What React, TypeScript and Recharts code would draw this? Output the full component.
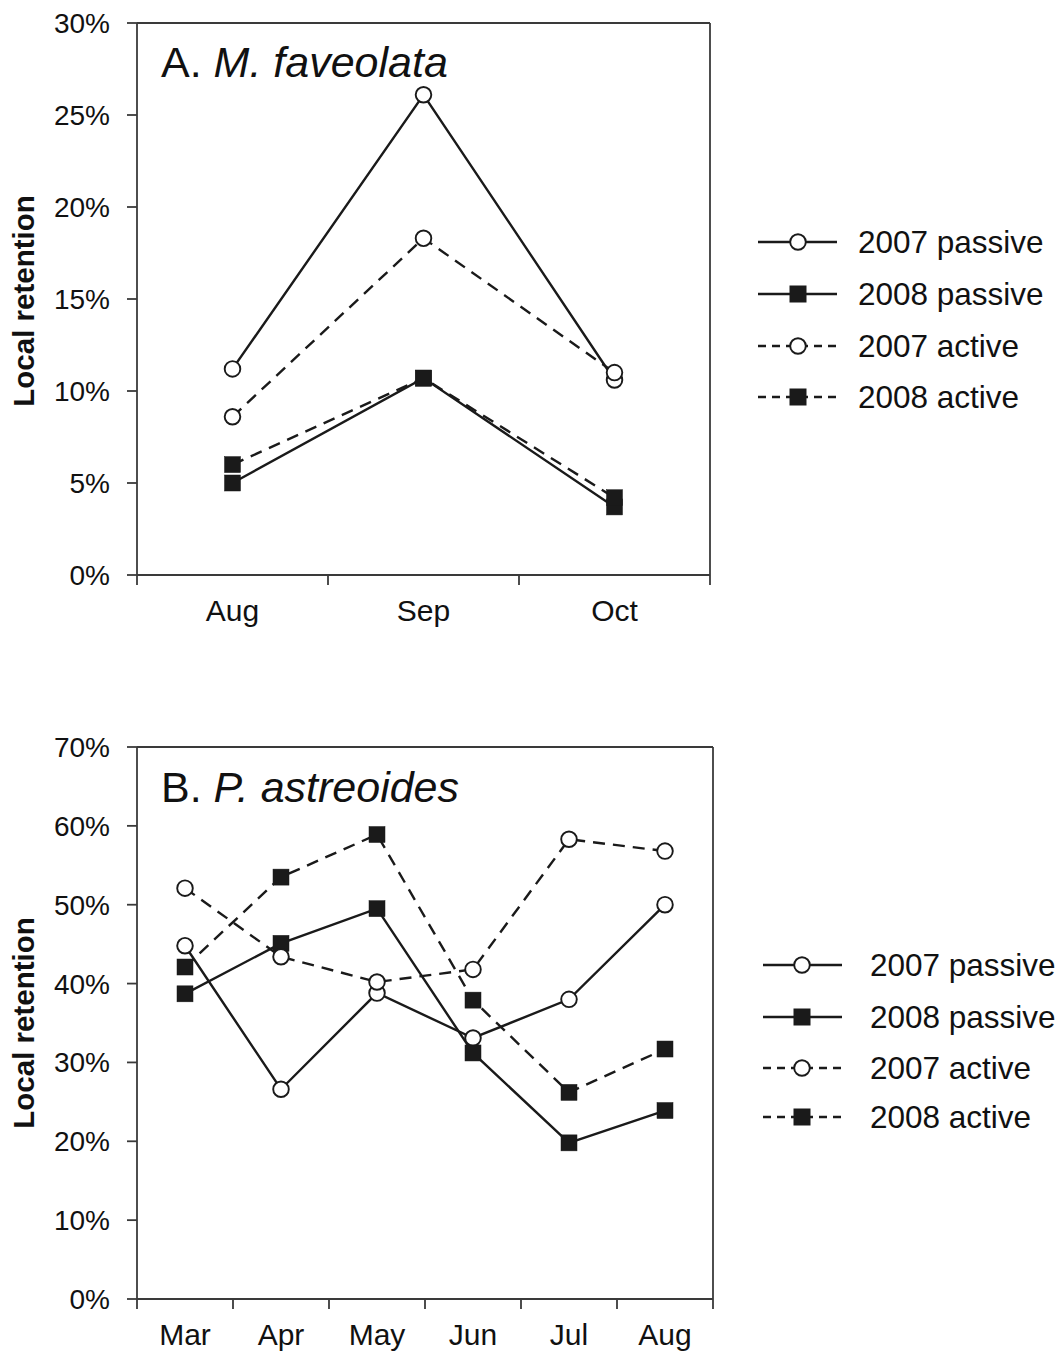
import React from 'react';
import { LineChart, Line, XAxis, YAxis, ReferenceLine } from 'recharts';

// ---------- Data ----------
const seriesNames = ['2007 passive', '2008 passive', '2007 active', '2008 active'];

const monthsA = ['Aug', 'Sep', 'Oct'];
const passive2007A = [11.2, 26.1, 10.6];
const passive2008A = [5.0, 10.7, 3.7];
const active2007A = [8.6, 18.3, 11.0];
const active2008A = [6.0, 10.7, 4.2];
const yTicksA = [0, 5, 10, 15, 20, 25, 30];

const monthsB = ['Mar', 'Apr', 'May', 'Jun', 'Jul', 'Aug'];
const passive2007B = [44.8, 26.6, 38.8, 33.1, 38.0, 50.0];
const passive2008B = [38.7, 45.1, 49.5, 31.2, 19.8, 23.9];
const active2007B = [52.1, 43.4, 40.2, 41.8, 58.3, 56.8];
const active2008B = [42.1, 53.5, 58.9, 37.9, 26.2, 31.7];
const yTicksB = [0, 10, 20, 30, 40, 50, 60, 70];

const FONT = '"Liberation Sans", Arial, Helvetica, sans-serif';
const INK = '#1a1a1a';
const AXIS = '#3a3a3a';

const seriesStyle = [
  { key: 's0', dashed: false, square: false },
  { key: 's1', dashed: false, square: true },
  { key: 's2', dashed: true, square: false },
  { key: 's3', dashed: true, square: true },
];

function buildData(months: string[], arrays: number[][]) {
  return months.map((m, i) => ({
    x: i + 0.5,
    month: m,
    s0: arrays[0][i],
    s1: arrays[1][i],
    s2: arrays[2][i],
    s3: arrays[3][i],
  }));
}

const CircleDot = (props: any) => {
  const { cx, cy } = props;
  if (cx == null || cy == null) return null;
  return <circle cx={cx} cy={cy} r={7.8} fill="#fff" stroke={INK} strokeWidth={1.9} />;
};

const SquareDot = (props: any) => {
  const { cx, cy } = props;
  if (cx == null || cy == null) return null;
  return <rect x={cx - 8} y={cy - 8} width={16} height={16} fill={INK} stroke={INK} strokeWidth={0.5} />;
};

const makeXTick = (months: string[]) => (props: any) => {
  const { x, y, payload } = props;
  const v = payload.value as number;
  if (Number.isInteger(v)) {
    return <line x1={x} x2={x} y1={y - 12} y2={y - 2} stroke={AXIS} strokeWidth={1.8} />;
  }
  const idx = Math.floor(v);
  return (
    <text x={x} y={y + 34} textAnchor="middle" fontFamily={FONT} fontSize={30} fill="#111">
      {months[idx]}
    </text>
  );
};

type PanelProps = {
  top: number;
  height: number;
  marginTop: number;
  marginRight: number;
  marginBottom: number;
  months: string[];
  arrays: number[][];
  yTicks: number[];
};

function Panel({ top, height, marginTop, marginRight, marginBottom, months, arrays, yTicks }: PanelProps) {
  const data = buildData(months, arrays);
  const n = months.length;
  const xTicks: number[] = [];
  for (let i = 0; i <= n * 2; i++) xTicks.push(i / 2);
  const yMax = yTicks[yTicks.length - 1];
  return (
    <div style={{ position: 'absolute', left: 0, top, width: 1063, height }}>
      <LineChart
        width={1063}
        height={height}
        data={data}
        margin={{ top: marginTop, right: marginRight, bottom: marginBottom, left: 0 }}
      >
        <XAxis
          dataKey="x"
          type="number"
          domain={[0, n]}
          ticks={xTicks}
          interval={0}
          height={50}
          tickSize={10}
          tickMargin={2}
          tickLine={false}
          axisLine={{ stroke: AXIS, strokeWidth: 1.8 }}
          tick={makeXTick(months)}
        />
        <YAxis
          type="number"
          domain={[0, yMax]}
          ticks={yTicks}
          interval={0}
          width={137}
          tickSize={10}
          tickMargin={17}
          tickLine={{ stroke: AXIS, strokeWidth: 1.8 }}
          axisLine={{ stroke: AXIS, strokeWidth: 1.8 }}
          tickFormatter={(v: number) => `${v}%`}
          tick={{ fontFamily: FONT, fontSize: 28, fill: '#111' }}
        />
        <ReferenceLine y={yMax} stroke={AXIS} strokeWidth={1.8} />
        <ReferenceLine x={n} stroke={AXIS} strokeWidth={1.8} />
        {seriesStyle.map((s) => (
          <Line
            key={s.key}
            type="linear"
            dataKey={s.key}
            stroke={INK}
            strokeWidth={2.4}
            strokeDasharray={s.dashed ? '12 8' : undefined}
            dot={s.square ? <SquareDot /> : <CircleDot />}
            activeDot={false}
            isAnimationActive={false}
          />
        ))}
      </LineChart>
    </div>
  );
}

function LegendBox({ x1, x2, mx, tx, rows }: { x1: number; x2: number; mx: number; tx: number; rows: number[] }) {
  return (
    <svg style={{ position: 'absolute', left: 0, top: 0, overflow: 'visible' }} width={1} height={1}>
      {seriesStyle.map((s, i) => {
        const y = rows[i];
        return (
          <g key={s.key}>
            <line
              x1={x1}
              x2={x2}
              y1={y}
              y2={y}
              stroke={INK}
              strokeWidth={2.4}
              strokeDasharray={s.dashed ? '8 6' : undefined}
            />
            {s.square ? (
              <rect x={mx - 8.5} y={y - 8.5} width={17} height={17} fill={INK} />
            ) : (
              <circle cx={mx} cy={y} r={7.8} fill="#fff" stroke={INK} strokeWidth={1.9} />
            )}
            <text x={tx} y={y + 11} fontFamily={FONT} fontSize={31.5} fill="#111">
              {seriesNames[i]}
            </text>
          </g>
        );
      })}
    </svg>
  );
}

function Overlay() {
  return (
    <svg style={{ position: 'absolute', left: 0, top: 0, pointerEvents: 'none' }} width={1063} height={1351}>
      <text
        x={34}
        y={301}
        transform="rotate(-90, 34, 301)"
        textAnchor="middle"
        fontFamily={FONT}
        fontWeight="bold"
        fontSize={29.5}
        fill="#111"
      >
        Local retention
      </text>
      <text
        x={34}
        y={1023}
        transform="rotate(-90, 34, 1023)"
        textAnchor="middle"
        fontFamily={FONT}
        fontWeight="bold"
        fontSize={29.5}
        fill="#111"
      >
        Local retention
      </text>
      <text x={161} y={77} fontFamily={FONT} fontSize={43} fill="#111">
        A.{' '}
        <tspan fontStyle="italic">M. faveolata</tspan>
      </text>
      <text x={161} y={802} fontFamily={FONT} fontSize={43} fill="#111">
        B.{' '}
        <tspan fontStyle="italic">P. astreoides</tspan>
      </text>
    </svg>
  );
}

export default function App() {
  return (
    <div style={{ position: 'absolute', left: 0, top: 0, width: 1063, height: 1351, background: '#fff', overflow: 'hidden' }}>
      <Panel
        top={0}
        height={660}
        marginTop={23}
        marginRight={353}
        marginBottom={35}
        months={monthsA}
        arrays={[passive2007A, passive2008A, active2007A, active2008A]}
        yTicks={yTicksA}
      />
      <Panel
        top={700}
        height={651}
        marginTop={47}
        marginRight={350}
        marginBottom={2}
        months={monthsB}
        arrays={[passive2007B, passive2008B, active2007B, active2008B]}
        yTicks={yTicksB}
      />
      <Overlay />
      <LegendBox x1={758} x2={837} mx={798} tx={858} rows={[242, 294, 346, 397]} />
      <LegendBox x1={763} x2={842} mx={802} tx={870} rows={[965, 1017, 1068, 1117]} />
    </div>
  );
}
